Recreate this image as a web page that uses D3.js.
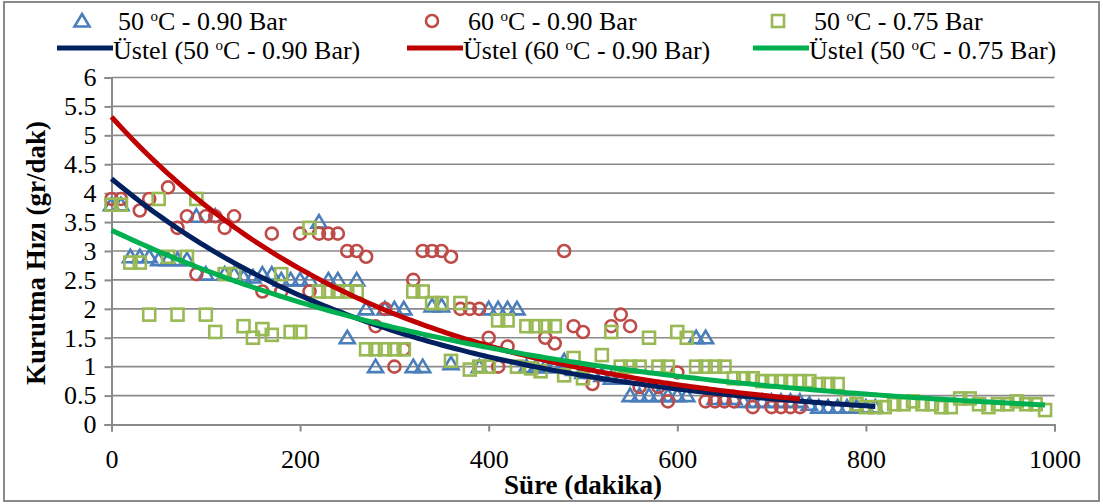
<!DOCTYPE html>
<html><head><meta charset="utf-8">
<script src="https://cdn.jsdelivr.net/npm/d3@7"></script>
<style>body{margin:0;background:#fff}svg{display:block}</style>
</head><body>
<svg id="c" width="1103" height="504"></svg>
<script>
// ---- data ----
const blueTimes = [0,10,20,30,40,50,60,70,80,90,100,110,120,130,140,150,160,170,180,190,200,210,220,230,240,250,260,270,280,290,300,310,320,330,340,350,360,390,400,410,420,430,440,450,460,470,480,490,500,510,520,530,540,550,560,570,580,590,600,610,620,630,640,650,660,670,680,690,700,710,720,730,740,750,760,770,780,790,800,810];
const blueValues = [3.8,3.8,2.9,2.9,2.9,2.85,2.85,2.85,2.85,3.6,2.6,3.6,2.6,2.6,2.55,2.55,2.6,2.6,2.5,2.5,2.5,2.5,3.5,2.5,2.5,1.5,2.5,2.0,1.0,2.0,2.0,2.0,1.0,1.0,2.05,2.05,1.05,1.0,2.0,2.0,2.0,2.0,1.0,1.0,1.0,1.0,1.1,0.95,0.9,0.9,0.85,0.8,0.8,0.5,0.5,0.5,0.5,0.5,0.5,0.5,1.5,1.5,0.45,0.45,0.45,0.4,0.4,0.4,0.4,0.4,0.4,0.4,0.35,0.3,0.3,0.3,0.3,0.3,0.3,0.3];

const redTimes = [0,10,30,40,60,70,80,90,100,110,120,130,160,170,180,200,210,220,230,240,250,260,270,280,290,300,310,320,330,340,350,360,370,380,390,400,410,420,460,470,480,490,500,510,530,540,550,560,580,590,600,630,640,650,660,680,700,710,720,730];
const redValues = [3.9,3.9,3.7,3.9,4.1,3.4,3.6,2.6,3.6,3.6,3.4,3.6,2.3,3.3,2.3,3.3,2.3,3.3,3.3,3.3,3.0,3.0,2.9,1.7,2.0,1.0,1.3,2.5,3.0,3.0,3.0,2.9,2.0,2.0,2.0,1.5,1.0,1.35,1.5,1.4,3.0,1.7,1.6,0.7,1.7,1.9,1.7,0.65,0.65,0.4,0.9,0.4,0.4,0.4,0.4,0.3,0.3,0.3,0.3,0.3];

const greenTimes = [0,10,20,30,40,50,60,70,80,90,100,110,120,130,140,150,160,170,180,190,200,210,220,230,240,250,260,270,280,290,300,310,320,330,340,350,360,370,380,390,400,410,420,430,440,445,450,455,460,470,480,490,500,520,530,540,550,560,570,580,590,600,610,620,630,640,650,660,670,680,690,700,710,720,730,740,750,760,770,780,790,800,810,820,830,840,850,860,870,880,890,900,910,920,930,940,950,960,970,980,990];
const greenValues = [3.8,3.8,2.8,2.8,1.9,3.9,2.9,1.9,2.9,3.9,1.9,1.6,2.6,2.6,1.7,1.5,1.65,1.55,2.6,1.6,1.6,3.4,2.3,2.3,2.3,2.3,2.3,1.3,1.3,1.3,1.3,1.3,2.3,2.3,2.1,2.1,1.1,2.1,0.95,1.0,1.0,1.8,1.8,1.0,1.7,0.97,1.7,0.92,1.7,1.7,0.85,1.15,0.8,1.2,1.6,1.0,1.0,1.0,1.5,1.0,1.0,1.6,1.5,1.0,1.0,1.0,1.0,0.8,0.8,0.8,0.75,0.75,0.75,0.75,0.75,0.75,0.7,0.7,0.7,0.45,0.35,0.3,0.3,0.3,0.35,0.35,0.4,0.35,0.35,0.3,0.3,0.45,0.45,0.35,0.3,0.35,0.35,0.4,0.35,0.35,0.25];

// exponential trend lines (Üstel): start value and decay rate
const trendStart = [4.25, 5.32, 3.36];
const trendRate  = [0.003224, 0.003409, 0.002318];

const xTicks = [0,200,400,600,800,1000];
const yTicks = [0,0.5,1,1.5,2,2.5,3,3.5,4,4.5,5,5.5,6];
const seriesNames = ["50 ", "60 ", "50 "];
const seriesTails = ["C - 0.90 Bar", "C - 0.90 Bar", "C - 0.75 Bar"];

// ---- drawing ----
const FONT = "'Liberation Serif','Times New Roman',serif";
const markerCol = ["#4A7EBB", "#BE4B48", "#98B954"];
const lineCol = ["#002060", "#C00000", "#00B050"];
const grid = "#8a8a8a";

const svg = d3.select("#c");
svg.append("rect").attr("x",4).attr("y",2).attr("width",1095).attr("height",499)
  .attr("fill","#fff").attr("stroke","#8a8a8a").attr("stroke-width",2);

const x = d3.scaleLinear().domain([0,1000]).range([111.5,1054.5]);
const y = d3.scaleLinear().domain([0,6]).range([424.5,77.5]);

// gridlines
svg.append("g").selectAll("line").data(yTicks.filter(d=>d>0)).join("line")
  .attr("x1",x(0)).attr("x2",x(1000)).attr("y1",d=>y(d)).attr("y2",d=>y(d))
  .attr("stroke",grid).attr("stroke-width",1.6);

// axes
const yAxis = d3.axisLeft(y).tickValues(yTicks).tickSize(7).tickPadding(8).tickFormat(d=>d);
const xAxis = d3.axisBottom(x).tickValues(xTicks).tickSize(7).tickPadding(18).tickFormat(d=>d);
const gy = svg.append("g").attr("transform",`translate(${x(0)},0)`).call(yAxis);
const gx = svg.append("g").attr("transform",`translate(0,${y(0)})`).call(xAxis);
[gx,gy].forEach(g=>{
  g.attr("font-family",null);
  g.select(".domain").attr("stroke",grid).attr("stroke-width",2);
  g.selectAll(".tick line").attr("stroke",grid).attr("stroke-width",2);
  g.selectAll(".tick text").attr("fill","#000").style("font-family",FONT).style("font-size","26px");
});

// markers
function drawMarkers(times, vals, k){
  const g = svg.append("g").attr("fill","none").attr("stroke",markerCol[k]).attr("stroke-width",2.6);
  const pts = times.map((t,i)=>[t, vals[i]]);
  if(k===0){
    g.selectAll("path").data(pts).join("path").attr("d","M0,-7L7.5,5.5L-7.5,5.5Z")
      .attr("transform",d=>`translate(${x(d[0])},${y(d[1])})`);
  } else if(k===1){
    g.selectAll("circle").data(pts).join("circle").attr("r",6)
      .attr("cx",d=>x(d[0])).attr("cy",d=>y(d[1]));
  } else {
    g.selectAll("rect").data(pts).join("rect").attr("width",12).attr("height",12)
      .attr("x",d=>x(d[0])-6).attr("y",d=>y(d[1])-6);
  }
}
drawMarkers(blueTimes, blueValues, 0);
drawMarkers(redTimes, redValues, 1);
drawMarkers(greenTimes, greenValues, 2);

// trend lines
const allTimes = [blueTimes, redTimes, greenTimes];
const line = d3.line().x(d=>x(d[0])).y(d=>y(d[1])).curve(d3.curveLinear);
[0,1,2].forEach(k=>{
  const tmax = d3.max(allTimes[k]);
  const pts = d3.range(0, tmax+0.001, 5).map(t=>[t, trendStart[k]*Math.exp(-trendRate[k]*t)]);
  svg.append("path").attr("d",line(pts)).attr("fill","none")
    .attr("stroke",lineCol[k]).attr("stroke-width",5);
});

// axis titles
svg.append("text").attr("x",583).attr("y",494).attr("text-anchor","middle")
  .style("font-family",FONT).style("font-size","27px").style("font-weight","bold").text("Süre (dakika)");
svg.append("text").attr("transform","translate(45,253) rotate(-90)").attr("text-anchor","middle")
  .style("font-family",FONT).style("font-size","27px").style("font-weight","bold").text("Kurutma Hızı (gr/dak)");

// legend
const legMarkX = [82, 432, 778];
const legLineX = [57, 407, 753];
function legendText(xp, yp, prefix, k){
  const t = svg.append("text").attr("x",xp).attr("y",yp)
    .style("font-family",FONT).style("font-size","26px").attr("fill","#000");
  t.append("tspan").text(prefix + seriesNames[k]);
  t.append("tspan").attr("dy",-9).style("font-size","15px").text("o");
  t.append("tspan").attr("dy",9).text(seriesTails[k] + (prefix ? ")" : ""));
}
[0,1,2].forEach(k=>{
  const g = svg.append("g").attr("fill","none").attr("stroke",markerCol[k]).attr("stroke-width",2.6)
    .attr("transform",`translate(${legMarkX[k]},21)`);
  if(k===0) g.append("path").attr("d","M0,-7L7.5,5.5L-7.5,5.5Z");
  else if(k===1) g.append("circle").attr("r",6);
  else g.append("rect").attr("x",-6).attr("y",-6).attr("width",12).attr("height",12);
  legendText(legMarkX[k]+36, 30, "", k);
  svg.append("line").attr("x1",legLineX[k]).attr("x2",legLineX[k]+56).attr("y1",48).attr("y2",48)
    .attr("stroke",lineCol[k]).attr("stroke-width",5);
  legendText(legLineX[k]+56, 59, "Üstel (", k);
});
</script>
</body></html>
